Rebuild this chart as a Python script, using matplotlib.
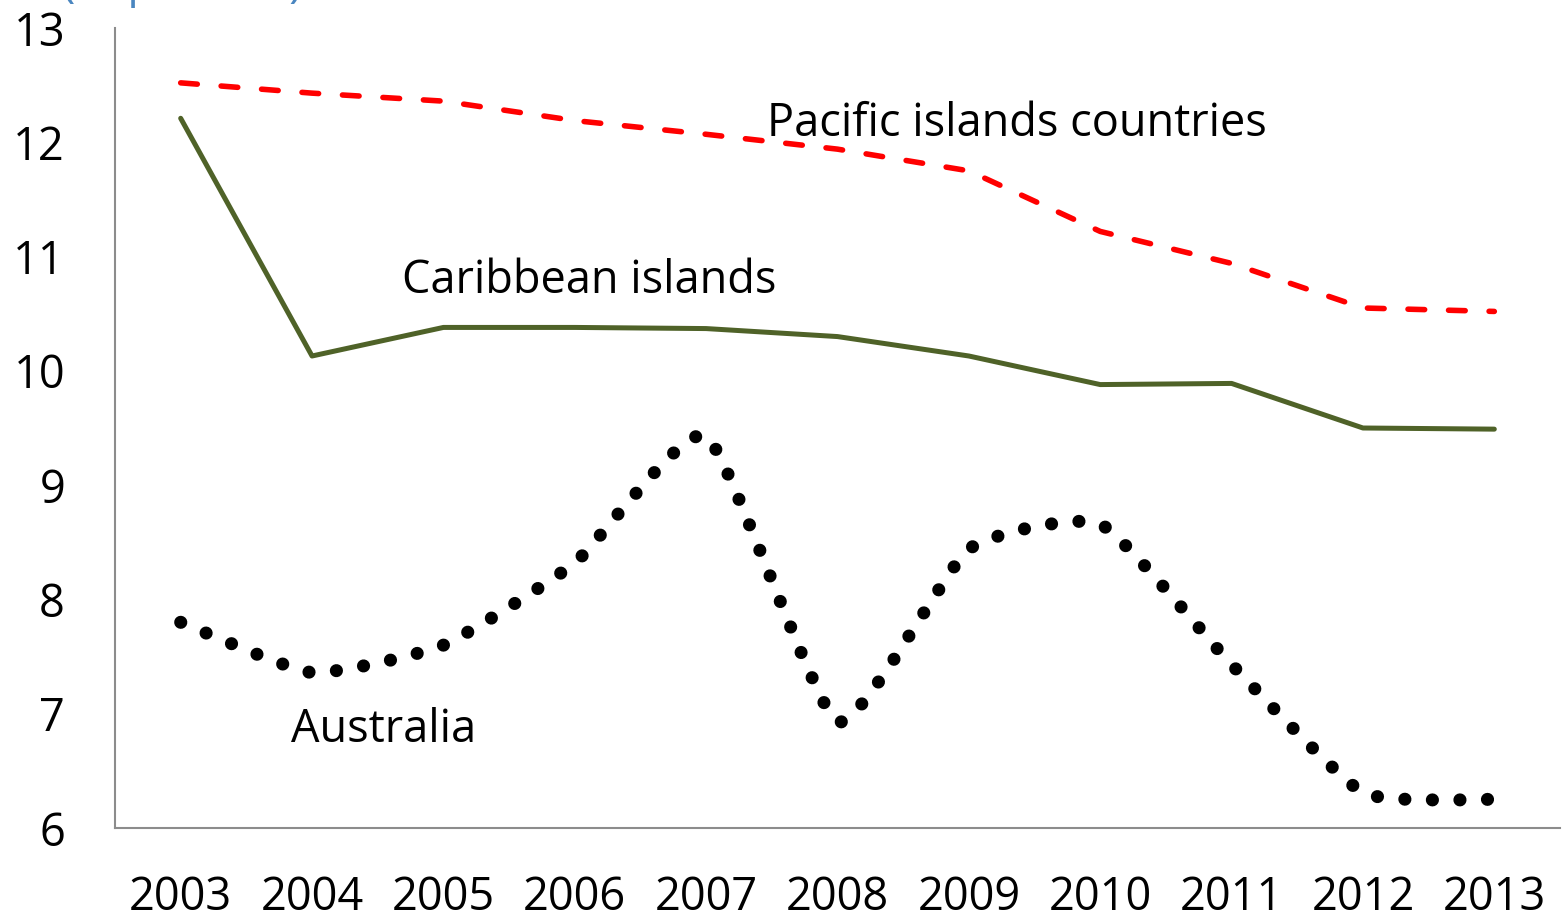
import numpy as np
import matplotlib
matplotlib.use('Agg')
import matplotlib.pyplot as plt
from matplotlib.path import Path
from matplotlib.patches import PathPatch

plt.rcParams['font.family'] = ['Open Sans', 'DejaVu Sans']

years = [2003, 2004, 2005, 2006, 2007, 2008, 2009, 2010, 2011, 2012, 2013]
pacific = [12.52, 12.43, 12.36, 12.19, 12.07, 11.94, 11.75, 11.22, 10.94, 10.55, 10.52]
caribbean = [12.21, 10.13, 10.38, 10.38, 10.37, 10.30, 10.13, 9.88, 9.89, 9.50, 9.49]
australia = [7.80, 7.36, 7.60, 8.32, 9.43, 6.93, 8.44, 8.66, 7.43, 6.31, 6.25]
y_ticks = [6, 7, 8, 9, 10, 11, 12, 13]


def smooth_path(x, y, k=1 / 12):
    # smoothed line like Excel: cubic bezier pieces through the data points
    pts = np.column_stack([x, y]).astype(float)
    n = len(pts)
    verts = [pts[0]]
    codes = [Path.MOVETO]
    for i in range(n - 1):
        p0 = pts[max(i - 1, 0)]
        p1 = pts[i]
        p2 = pts[i + 1]
        p3 = pts[min(i + 2, n - 1)]
        verts += [p1 + (p2 - p0) * k, p2 - (p3 - p1) * k, p2]
        codes += [Path.CURVE4] * 3
    return Path(verts, codes)


fig = plt.figure(figsize=(15.65, 9.19), dpi=100)
ax = fig.add_axes([115 / 1565, 1 - 828 / 919, 1445 / 1565, 800 / 919])

ax.plot(years, pacific, color='#FF0000', lw=4, linestyle=(0, (3, 4.3)),
        dash_capstyle='round')
ax.plot(years, caribbean, color='#4F6228', lw=3.6, solid_capstyle='round')
ax.add_patch(PathPatch(smooth_path(years, australia), fill=False,
                       edgecolor='black', lw=9.4, linestyle=(0, (0.01, 2.1)),
                       capstyle='round'))

fs = 32.5
ax.text(2007.465, 12.16, 'Pacific islands countries', fontsize=fs,
        ha='left', va='center')
ax.text(2004.686, 10.79, 'Caribbean islands', fontsize=fs,
        ha='left', va='center')
ax.text(2003.843, 6.86, 'Australia', fontsize=fs, ha='left', va='center')

ax.set_xlim(2002.5, 2013.5)
ax.set_ylim(6, 13)
ax.set_xticks(years)
ax.set_xticklabels([str(y) for y in years])
ax.set_yticks(y_ticks)
ax.tick_params(axis='both', length=0, labelsize=fs)
ax.tick_params(axis='x', pad=34)
ax.tick_params(axis='y', pad=36)

for side in ['top', 'right']:
    ax.spines[side].set_visible(False)
for side in ['left', 'bottom']:
    ax.spines[side].set_color('#8c8c8c')
    ax.spines[side].set_linewidth(1.5)

# unit note above the plot, mostly cut off by the top edge as in the source
fig.text(62 / 1565, 1 + 3 / 919, '(In percent)', fontsize=fs,
         color='#4A86C0', ha='left', va='baseline')

fig.savefig('out.png', dpi=100)
